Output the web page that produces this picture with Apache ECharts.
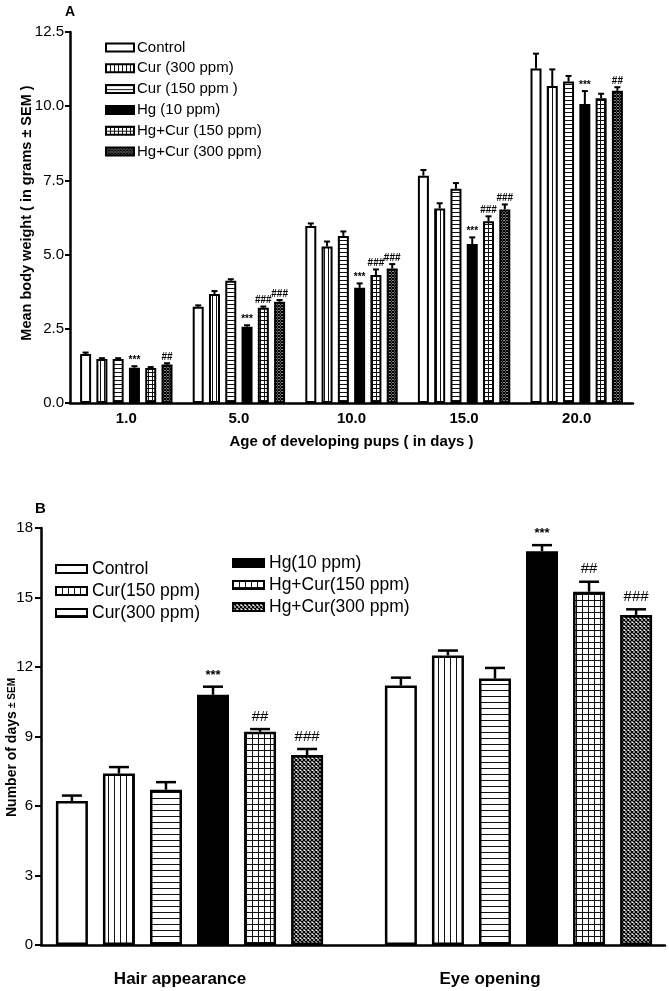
<!DOCTYPE html>
<html><head><meta charset="utf-8">
<script src="https://cdn.jsdelivr.net/npm/echarts@6/dist/echarts.min.js"></script>
<style>html,body{margin:0;padding:0;background:#fff}#c{width:669px;height:991px}</style>
</head><body><div id="c"></div>
<script>
// ---------- Panel A data ----------
const catsA = ['1.0', '5.0', '10.0', '15.0', '20.0'];
const namesA = ['Control', 'Cur (300 ppm)', 'Cur (150 ppm )', 'Hg (10 ppm)', 'Hg+Cur (150 ppm)', 'Hg+Cur (300 ppm)'];
const controlA   = [1.65, 3.24, 5.96, 7.66, 11.27];
const cur300A    = [1.48, 3.67, 5.27, 6.55, 10.68];
const cur150A    = [1.48, 4.12, 5.63, 7.22, 10.83];
const hgA        = [1.19, 2.57, 3.88, 5.36, 10.07];
const hgCur150A  = [1.18, 3.21, 4.31, 6.12, 10.27];
const hgCur300A  = [1.30, 3.41, 4.53, 6.52, 10.52];
const errControlA  = [0.05, 0.05, 0.09, 0.19, 0.50];
const errCur300A   = [0.03, 0.10, 0.17, 0.18, 0.56];
const errCur150A   = [0.03, 0.05, 0.15, 0.19, 0.19];
const errHgA       = [0.05, 0.05, 0.15, 0.22, 0.44];
const errHgCur150A = [0.03, 0.04, 0.19, 0.17, 0.15];
const errHgCur300A = [0.04, 0.06, 0.15, 0.17, 0.12];
const annControlA  = ['', '', '', '', ''];
const annCur300A   = ['', '', '', '', ''];
const annCur150A   = ['', '', '', '', ''];
const annHgA       = ['***', '***', '***', '***', '***'];
const annHgCur150A = ['', '###', '###', '###', ''];
const annHgCur300A = ['##', '###', '###', '###', '##'];
const ticksA = [0, 2.5, 5, 7.5, 10, 12.5];

// ---------- Panel B data ----------
const catsB = ['Hair appearance', 'Eye opening'];
const namesB = ['Control', 'Cur(150 ppm)', 'Cur(300 ppm)', 'Hg(10 ppm)', 'Hg+Cur(150 ppm)', 'Hg+Cur(300 ppm)'];
const controlB  = [6.22, 11.2];
const cur150B   = [7.4, 12.5];
const cur300B   = [6.7, 11.5];
const hgB       = [10.8, 17.0];
const hgCur150B = [9.2, 15.25];
const hgCur300B = [8.2, 14.25];
const errControlB  = [0.23, 0.34];
const errCur150B   = [0.28, 0.21];
const errCur300B   = [0.33, 0.46];
const errHgB       = [0.35, 0.26];
const errHgCur150B = [0.12, 0.43];
const errHgCur300B = [0.26, 0.24];
const annControlB  = ['', ''];
const annCur150B   = ['', ''];
const annCur300B   = ['', ''];
const annHgB       = ['***', '***'];
const annHgCur150B = ['##', '##'];
const annHgCur300B = ['###', '###'];
const ticksB = [0, 3, 6, 9, 12, 15, 18];

const F = "'Liberation Sans', Arial, sans-serif";

function pat(kind, s) {
  if (kind === 'white') return '#fff';
  if (kind === 'black') return '#000';
  const c = document.createElement('canvas');
  c.width = s; c.height = s;
  const g = c.getContext('2d');
  g.fillStyle = '#fff'; g.fillRect(0, 0, s, s);
  g.fillStyle = '#111';
  if (kind === 'v') g.fillRect(0, 0, 1, s);
  if (kind === 'h') g.fillRect(0, 0, s, 1);
  if (kind === 'grid') { g.fillRect(0, 0, 1, s); g.fillRect(0, 0, s, 1); }
  if (kind === 'x') {
    g.strokeStyle = '#000'; g.lineWidth = 1.3;
    g.beginPath();
    for (const k of [-s, 0, s]) {
      g.moveTo(k, 0); g.lineTo(k + s, s);
      g.moveTo(k + s, 0); g.lineTo(k, s);
    }
    g.stroke();
  }
  return { image: c, repeat: 'repeat' };
}

const kindsA = ['white', 'v', 'h', 'black', 'grid', 'x'];
const kindsB = ['white', 'v', 'h', 'black', 'grid', 'x'];

const valsA = [controlA, cur300A, cur150A, hgA, hgCur150A, hgCur300A];
const errsA = [errControlA, errCur300A, errCur150A, errHgA, errHgCur150A, errHgCur300A];
const annsA = [annControlA, annCur300A, annCur150A, annHgA, annHgCur150A, annHgCur300A];
const valsB = [controlB, cur150B, cur300B, hgB, hgCur150B, hgCur300B];
const errsB = [errControlB, errCur150B, errCur300B, errHgB, errHgCur150B, errHgCur300B];
const annsB = [annControlB, annCur150B, annCur300B, annHgB, annHgCur150B, annHgCur300B];

const barWA = 11, gapA = 0.48;
const barWB = 32, gapB = 0.47;

function errSeries(panel, idx, vals, errs, ann, barW, gapR, n, capW, lw, annFont, annGap) {
  return {
    type: 'custom', xAxisIndex: panel, yAxisIndex: panel, z: 5, silent: true,
    data: vals.map((v, k) => [k, v, errs[k]]),
    encode: { x: 0, y: 1 },
    renderItem: function (params, api) {
      const k = api.value(0), v = api.value(1), e = api.value(2);
      const p0 = api.coord([k, v]);
      const p1 = api.coord([k, v + e]);
      const step = barW * (1 + gapR);
      const total = n * barW + (n - 1) * barW * gapR;
      const x = p0[0] - total / 2 + idx * step + barW / 2;
      const ch = [
        { type: 'line', shape: { x1: x, y1: p0[1], x2: x, y2: p1[1] }, style: { stroke: '#000', lineWidth: lw } },
        { type: 'line', shape: { x1: x - capW / 2, y1: p1[1], x2: x + capW / 2, y2: p1[1] }, style: { stroke: '#000', lineWidth: lw } }
      ];
      const t = ann[params.dataIndex];
      if (t) ch.push({ type: 'text', x: x, y: p1[1] - annGap,
        style: { text: t, font: annFont, fill: '#000', align: 'center', verticalAlign: 'bottom' } });
      return { type: 'group', children: ch };
    }
  };
}

const series = [];
namesA.forEach((nm, i) => {
  series.push({
    name: nm, type: 'bar', xAxisIndex: 0, yAxisIndex: 0, data: valsA[i],
    barWidth: barWA, barGap: (gapA * 100) + '%',
    itemStyle: { color: pat(kindsA[i], i === 5 ? 3 : 4), borderColor: '#000', borderWidth: 2 }
  });
});
namesB.forEach((nm, i) => {
  series.push({
    name: nm, type: 'bar', xAxisIndex: 1, yAxisIndex: 1, data: valsB[i],
    barWidth: barWB, barGap: (gapB * 100) + '%',
    itemStyle: { color: pat(kindsB[i], i === 5 ? 4 : 6), borderColor: '#000', borderWidth: 2.5 }
  });
});
namesA.forEach((nm, i) => series.push(errSeries(0, i, valsA[i], errsA[i], annsA[i], barWA, gapA, 6, 6, 2, "bold 10px " + F, 1)));
namesB.forEach((nm, i) => series.push(errSeries(1, i, valsB[i], errsB[i], annsB[i], barWB, gapB, 6, 20, 2.5, (i === 3 ? "bold 13px " : "15px ") + F, 5)));

const labB = { fontSize: 17, fontWeight: 'bold', fontFamily: F, color: '#000' };

const chart = echarts.init(document.getElementById('c'), null, { renderer: 'canvas' });
chart.setOption({
  animation: false,
  backgroundColor: '#fff',
  title: [
    { text: 'A', left: 60, top: 0, textStyle: { fontSize: 14, fontWeight: 'bold', fontFamily: F, color: '#000' } },
    { text: 'B', left: 30, top: 496, textStyle: { fontSize: 15, fontWeight: 'bold', fontFamily: F, color: '#000' } }
  ],
  legend: [
    { orient: 'vertical', left: 100, top: 35, itemWidth: 28, itemHeight: 8, itemGap: 5.8, icon: 'rect', selectedMode: false,
      data: namesA, textStyle: { fontSize: 15, fontFamily: F, color: '#000', padding: [0, 0, 0, -2] } },
    { orient: 'vertical', left: 50, top: 555, itemWidth: 31, itemHeight: 8, itemGap: 4, icon: 'rect', selectedMode: false,
      data: namesB.slice(0, 3), textStyle: { fontSize: 17.5, fontFamily: F, color: '#000' } },
    { orient: 'vertical', left: 227, top: 549, itemWidth: 31, itemHeight: 8, itemGap: 4, icon: 'rect', selectedMode: false,
      data: namesB.slice(3), textStyle: { fontSize: 17.5, fontFamily: F, color: '#000' } }
  ],
  grid: [
    { left: 70, top: 32, width: 563, height: 371, outerBoundsMode: 'none', containLabel: false },
    { left: 25, top: 528, width: 658, height: 417, outerBoundsMode: 'none', containLabel: false },
    { left: 41, top: 528, width: 624, height: 417, outerBoundsMode: 'none', containLabel: false }
  ],
  xAxis: [
    { type: 'category', gridIndex: 0, data: catsA,
      axisLine: { lineStyle: { color: '#000', width: 2.5 } }, axisTick: { show: false },
      axisLabel: { color: '#000', fontSize: 15, fontWeight: 'bold', fontFamily: F, margin: 8 },
      name: 'Age of developing pups ( in days )', nameLocation: 'middle', nameGap: 31, nameMoveOverlap: false,
      nameTextStyle: { color: '#000', fontSize: 15, fontWeight: 'bold', fontFamily: F } },
    { type: 'category', gridIndex: 1, data: catsB,
      axisLine: { show: false }, axisTick: { show: false },
      axisLabel: { margin: 26, formatter: (v, i) => '{l' + i + '|' + v + '}',
        rich: { l0: Object.assign({ padding: [0, 19, 0, 0] }, labB), l1: Object.assign({ padding: [0, 57, 0, 0] }, labB) } } },
    { type: 'value', gridIndex: 2, min: 0, max: 1,
      axisLine: { show: true, onZero: false, lineStyle: { color: '#000', width: 2.5 } },
      axisTick: { show: false }, axisLabel: { show: false }, splitLine: { show: false } }
  ],
  yAxis: [
    { type: 'value', gridIndex: 0, min: ticksA[0], max: ticksA[ticksA.length - 1], interval: 2.5,
      splitLine: { show: false },
      axisLine: { show: true, lineStyle: { color: '#000', width: 2.5 } },
      axisTick: { show: true, length: 5, lineStyle: { color: '#000', width: 2 } },
      axisLabel: { color: '#000', fontSize: 15, fontFamily: F, margin: 6, formatter: v => v.toFixed(1) },
      name: 'Mean body weight ( in grams ± SEM )', nameLocation: 'middle', nameGap: 36, nameMoveOverlap: false,
      nameTextStyle: { color: '#000', fontSize: 14.5, fontWeight: 'bold', fontFamily: F, padding: [0, 0, 0, 9] } },
    { type: 'value', gridIndex: 1, min: ticksB[0], max: ticksB[ticksB.length - 1], interval: 3, offset: -16,
      splitLine: { show: false },
      axisLine: { show: true, onZero: false, lineStyle: { color: '#000', width: 2.5 } },
      axisTick: { show: true, length: 6, lineStyle: { color: '#000', width: 2 } },
      axisLabel: { color: '#000', fontSize: 15, fontFamily: F, margin: 8 },
      name: '{a|Number of days} {b|± SEM}', nameLocation: 'middle', nameGap: 22, nameMoveOverlap: false,
      nameTextStyle: { color: '#000', fontFamily: F, padding: [0, 22, 0, 0],
        rich: { a: { fontSize: 14, fontWeight: 'bold', fontFamily: F, color: '#000' },
                b: { fontSize: 10, fontWeight: 'bold', fontFamily: F, color: '#000' } } } },
    { type: 'value', gridIndex: 2, min: 0, max: 1, show: false }
  ],
  series: series
});
</script>
</body></html>
